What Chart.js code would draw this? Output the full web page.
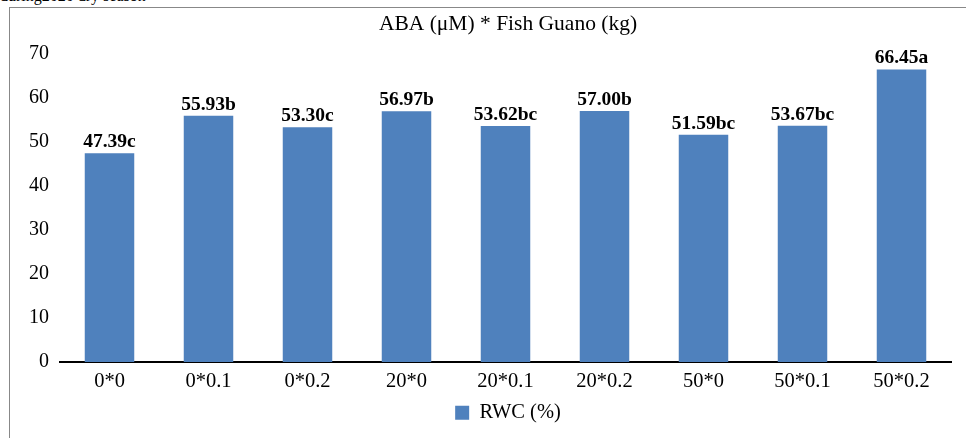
<!DOCTYPE html>
<html>
<head>
<meta charset="utf-8">
<script src="https://cdn.jsdelivr.net/npm/chart.js@4/dist/chart.umd.min.js"></script>
<style>
  html, body { margin: 0; padding: 0; background: #fff; overflow: hidden; }
  body { width: 966px; height: 438px; position: relative; font-family: "Liberation Serif", serif; }
  #caption { position: absolute; left: 0; top: -13px; font-size: 16px; color: #000; white-space: nowrap; }
  #frame { position: absolute; left: 9px; top: 7px; width: 1100px; height: 500px; border: 1px solid #888; }
  #wrap { position: absolute; left: 10px; top: 8px; width: 996px; height: 430px; }
</style>
</head>
<body>
<div id="caption">during2020 dry season</div>
<div id="frame"></div>
<div id="wrap"><canvas id="myChart"></canvas></div>
<script>
const categories = ['0*0', '0*0.1', '0*0.2', '20*0', '20*0.1', '20*0.2', '50*0', '50*0.1', '50*0.2'];
const rwcValues = [47.39, 55.93, 53.30, 56.97, 53.62, 57.00, 51.59, 53.67, 66.45];
const letters = ['c', 'b', 'c', 'b', 'bc', 'b', 'bc', 'bc', 'a'];
const yTicks = [0, 10, 20, 30, 40, 50, 60, 70];

// value + letter labels above each bar
const barLabels = {
  id: 'barLabels',
  afterDatasetsDraw(chart) {
    const ctx = chart.ctx;
    const meta = chart.getDatasetMeta(0);
    ctx.save();
    ctx.font = 'bold 19.5px "Liberation Serif"';
    ctx.fillStyle = '#000';
    ctx.textAlign = 'center';
    ctx.textBaseline = 'alphabetic';
    meta.data.forEach((bar, i) => {
      ctx.fillText(rwcValues[i].toFixed(2) + letters[i], bar.x, bar.y - 6);
    });
    ctx.restore();
  }
};

const ctx = document.getElementById('myChart').getContext('2d');
new Chart(ctx, {
  type: 'bar',
  data: {
    labels: categories,
    datasets: [{
      label: 'RWC (%)',
      data: rwcValues,
      backgroundColor: '#4F81BD',
      borderWidth: 0,
      barPercentage: 0.5,
      categoryPercentage: 1.0
    }]
  },
  options: {
    responsive: true,
    maintainAspectRatio: false,
    animation: false,
    layout: { padding: { left: 0, right: 0, top: 3, bottom: 5 } },
    plugins: {
      title: {
        display: true,
        text: 'ABA (μM) * Fish Guano (kg)',
        color: '#000',
        font: { family: 'Liberation Serif', size: 21.5, weight: 'normal' },
        padding: { top: 0, bottom: 17 }
      },
      legend: {
        position: 'bottom',
        labels: {
          color: '#000',
          font: { family: 'Liberation Serif', size: 20.5 },
          boxWidth: 14,
          boxHeight: 14,
          padding: 2
        }
      },
      tooltip: { enabled: false }
    },
    scales: {
      x: {
        grid: { display: false, drawTicks: false },
        border: { color: '#000', width: 2 },
        ticks: { color: '#000', font: { family: 'Liberation Serif', size: 20.5, lineHeight: 0.9 }, padding: 10 }
      },
      y: {
        min: 0,
        max: 70,
        afterFit(scale) { scale.width = 50; },
        afterBuildTicks(scale) { scale.ticks = yTicks.map(v => ({ value: v })); },
        grid: { display: false, drawTicks: false },
        border: { display: false },
        ticks: { color: '#000', font: { family: 'Liberation Serif', size: 20 }, padding: 11 }
      },
      // empty right-hand axis, only to keep title and legend centred like the original
      yRight: {
        position: 'right',
        min: 0,
        max: 70,
        afterFit(scale) { scale.width = 55; },
        grid: { display: false, drawTicks: false },
        border: { display: false },
        ticks: { display: false }
      }
    }
  },
  plugins: [barLabels]
});
</script>
</body>
</html>
